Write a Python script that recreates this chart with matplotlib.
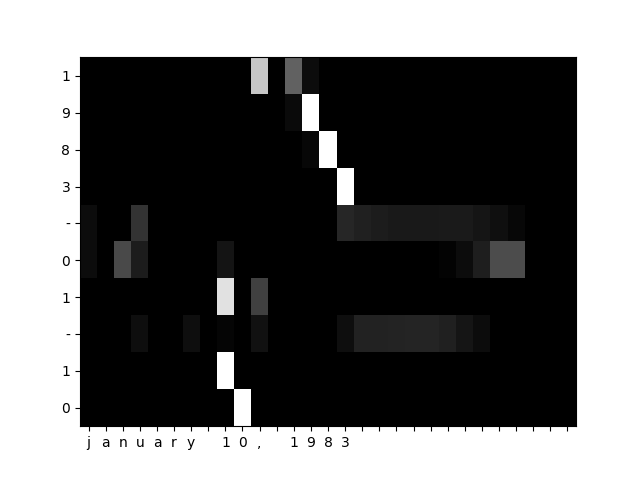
import numpy as np
import matplotlib
matplotlib.use("Agg")
import matplotlib.pyplot as plt

input_chars = list("january 10, 1983") + [""] * 13
output_chars = list("1983-01-10")

# attention weights, one row per output character (29 input positions)
row_1a = [0]*10 + [0.78, 0, 0.38, 0.05] + [0]*15
row_9 = [0]*12 + [0.04, 1.0] + [0]*15
row_8 = [0]*13 + [0.03, 1.0] + [0]*14
row_3 = [0]*15 + [1.0] + [0]*13
row_dash1 = [0.05, 0, 0, 0.2] + [0]*11 + [0.15, 0.125, 0.11, 0.10, 0.10, 0.10,
                                         0.105, 0.105, 0.085, 0.06, 0.03] + [0]*3
row_0a = [0.05, 0, 0.29, 0.11, 0, 0, 0, 0, 0.08] + [0]*12 + [0.015, 0.05, 0.12,
                                                          0.30, 0.30] + [0]*3
row_1b = [0]*8 + [0.88, 0, 0.25] + [0]*18
row_dash2 = [0, 0, 0, 0.055, 0, 0, 0.055, 0, 0.02, 0, 0.07] + [0]*4 + [
    0.055, 0.135, 0.135, 0.14, 0.142, 0.142, 0.125, 0.085, 0.05] + [0]*5
row_1c = [0]*8 + [1.0] + [0]*20
row_0b = [0]*9 + [1.0] + [0]*19

attention = np.array([row_1a, row_9, row_8, row_3, row_dash1,
                      row_0a, row_1b, row_dash2, row_1c, row_0b])

fig, ax = plt.subplots(figsize=(6.4, 4.79), dpi=100)
ax.imshow(attention, cmap="gray", aspect="auto", interpolation="nearest",
          vmin=0, vmax=1)
ax.set_xticks(range(len(input_chars)))
ax.set_xticklabels(input_chars)
ax.set_yticks(range(len(output_chars)))
ax.set_yticklabels(output_chars)
fig.savefig("out.png")
